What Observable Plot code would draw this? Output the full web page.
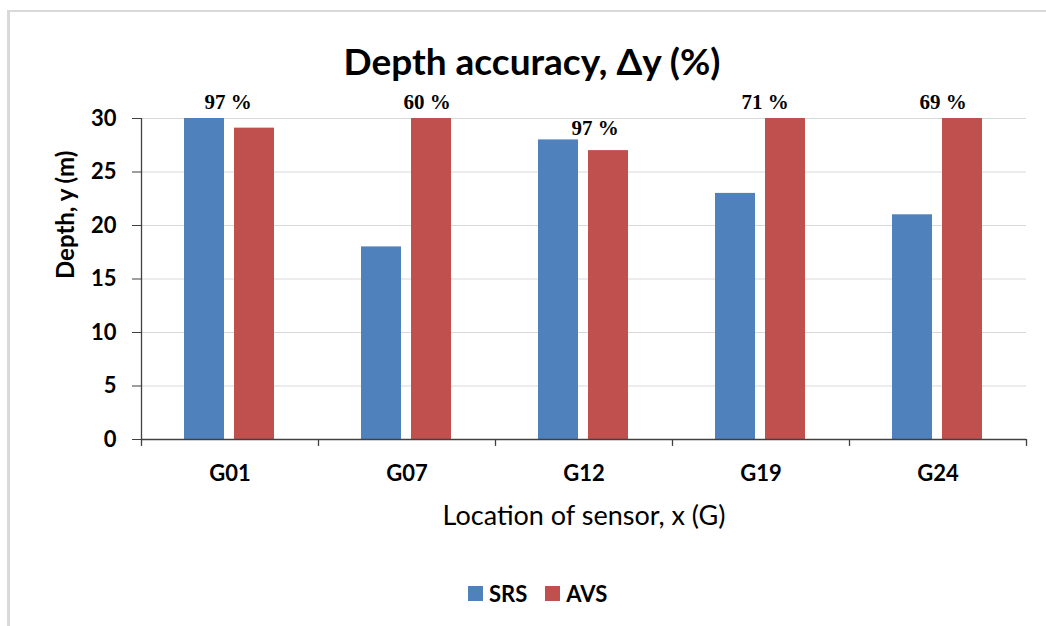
<!DOCTYPE html>
<html>
<head>
<meta charset="utf-8">
<script src="https://cdn.jsdelivr.net/npm/d3@7"></script>
<script src="https://cdn.jsdelivr.net/npm/@observablehq/plot@0.6"></script>
<style>
  body { margin: 0; background: #fff; }
  #wrap { position: relative; width: 1046px; height: 626px; overflow: hidden; background: #fff; }
  #frame { position: absolute; left: 7px; top: 10px; width: 1100px; height: 700px;
           border-left: 3px solid #d9d9d9; border-top: 2px solid #d9d9d9; }
  #chart { position: absolute; left: 0; top: 0; }
  #title { position: absolute; left: 0; width: 1064px; top: 40px; text-align: center;
           font-family: Lato, sans-serif; font-weight: bold; font-size: 37px; line-height: 42px; color: #000; }
  #legend { position: absolute; left: 468px; top: 580px; display: flex; align-items: center;
            font-family: Lato, sans-serif; font-weight: bold; font-size: 22px; color: #000; }
  .sw { width: 15px; height: 15px; margin-right: 6px; }
  .item { display: flex; align-items: center; margin-right: 18px; }
</style>
</head>
<body>
<div id="wrap">
  <div id="frame"></div>
  <div id="chart"></div>
  <div id="title">Depth accuracy, Δy (%)</div>
  <div id="legend"></div>
</div>
<script>
const categories = ["G01", "G07", "G12", "G19", "G24"];
const seriesNames = ["SRS", "AVS"];
const seriesColors = ["#4f81bd", "#c0504d"];
const srsDepth = [30, 18, 28, 23, 21];
const avsDepth = [29.1, 30, 27, 30, 30];
const accuracyLabels = ["97 %", "60 %", "97 %", "71 %", "69 %"];
const labelDepth = [31.5, 31.5, 29.1, 31.5, 31.5];
const labelNudge = [-2, 20, 11, 4, 5];
const yTicks = [0, 5, 10, 15, 20, 25, 30];
const yDomain = [0, 30];

const srsData = categories.map((c, i) => ({cat: c, v: srsDepth[i]}));
const avsData = categories.map((c, i) => ({cat: c, v: avsDepth[i]}));

const W = 1046, H = 540;
const band = (W - 20 - 141) / categories.length;
const axisColor = "#404040";

const labelMarks = categories.map((c, i) =>
  Plot.text([i], {
    x: (j) => categories[j], y: (j) => labelDepth[j], text: (j) => accuracyLabels[j],
    dx: labelNudge[i], fontFamily: "Liberation Serif", fontWeight: "bold", fontSize: 21,
    fill: "#000", lineAnchor: "middle"
  })
);

const chart = Plot.plot({
  width: W, height: H,
  marginLeft: 141, marginRight: 20, marginTop: 118, marginBottom: 101,
  style: {fontFamily: "Lato, sans-serif", background: "transparent", color: "#000"},
  x: {domain: categories, padding: 0, label: null},
  y: {domain: yDomain, label: null},
  marks: [
    Plot.gridY(yTicks, {stroke: "#d9d9d9", strokeOpacity: 1, strokeWidth: 1}),
    Plot.barY(srsData, {x: "cat", y: "v", fill: seriesColors[0], insetLeft: 43, insetRight: 94}),
    Plot.barY(avsData, {x: "cat", y: "v", fill: seriesColors[1], insetLeft: 93, insetRight: 44}),
    Plot.ruleY([yDomain[0]], {stroke: axisColor, strokeWidth: 1.3}),
    Plot.ruleX([categories[0]], {dx: -band / 2, y1: yDomain[0], y2: yDomain[1], stroke: axisColor, strokeWidth: 1.3}),
    Plot.ruleX(categories, {dx: -band / 2, y1: 0, y2: -0.65, stroke: axisColor, strokeWidth: 1.3}),
    Plot.ruleX([categories[categories.length - 1]], {dx: band / 2, y1: 0, y2: -0.65, stroke: axisColor, strokeWidth: 1.3}),
    Plot.axisY({ticks: yTicks, tickSize: 9, tickPadding: 16, fontSize: 22, fontWeight: "bold", stroke: axisColor, label: null}),
    Plot.axisX({tickSize: 0, tickPadding: 26, fontSize: 22, fontWeight: "bold", label: null}),
    Plot.text(["Depth, y (m)"], {frameAnchor: "left", rotate: -90, dx: -75, fontSize: 24, fontWeight: "bold", fill: "#000", lineAnchor: "middle"}),
    Plot.text(["Location of sensor, x (G)"], {frameAnchor: "bottom", dy: 77, fontSize: 27, fontWeight: "normal", fill: "#000", lineAnchor: "middle"}),
    ...labelMarks
  ]
});
document.getElementById("chart").appendChild(chart);

const legend = document.getElementById("legend");
seriesNames.forEach((name, i) => {
  const item = document.createElement("div");
  item.className = "item";
  const sw = document.createElement("div");
  sw.className = "sw";
  sw.style.background = seriesColors[i];
  const t = document.createElement("span");
  t.textContent = name;
  item.appendChild(sw);
  item.appendChild(t);
  legend.appendChild(item);
});
</script>
</body>
</html>
